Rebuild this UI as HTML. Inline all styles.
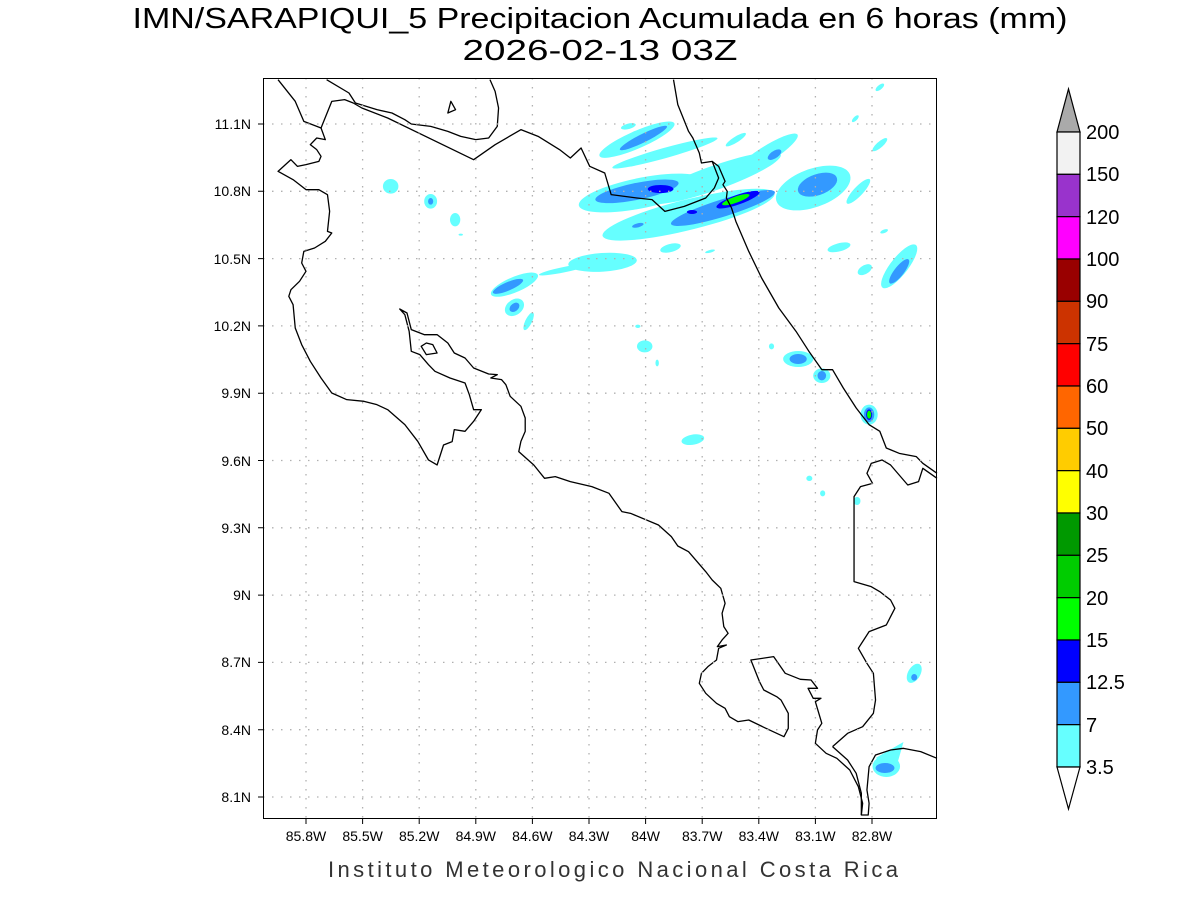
<!DOCTYPE html>
<html><head><meta charset="utf-8"><style>
html,body{margin:0;padding:0;background:#fff}
svg{display:block}
text{font-family:"Liberation Sans",sans-serif}
</style></head><body>
<svg width="1200" height="900" viewBox="0 0 1200 900" xmlns="http://www.w3.org/2000/svg">
<rect width="1200" height="900" fill="#fff"/>
<text x="600" y="28" font-size="29" text-anchor="middle" textLength="935" lengthAdjust="spacingAndGlyphs">IMN/SARAPIQUI_5 Precipitacion Acumulada en 6 horas (mm)</text>
<text x="600" y="60" font-size="29" text-anchor="middle" textLength="275" lengthAdjust="spacingAndGlyphs">2026-02-13 03Z</text>

<g transform="translate(263,78) scale(0.42985,0.33333)">
<g fill="#66ffff">
<ellipse cx="870" cy="185" rx="100" ry="25" transform="rotate(-30 870 185)"/>
<ellipse cx="850" cy="145" rx="18" ry="8" transform="rotate(-20 850 145)"/>
<ellipse cx="935" cy="225" rx="130" ry="15" transform="rotate(-20 935 225)"/>
<ellipse cx="1100" cy="185" rx="30" ry="8" transform="rotate(-40 1100 185)"/>
<ellipse cx="880" cy="345" rx="150" ry="45" transform="rotate(-15 880 345)"/>
<ellipse cx="1050" cy="300" rx="170" ry="35" transform="rotate(-25 1050 300)"/>
<ellipse cx="990" cy="410" rx="210" ry="45" transform="rotate(-18 990 410)"/>
<ellipse cx="1170" cy="230" rx="95" ry="22" transform="rotate(-40 1170 230)"/>
<ellipse cx="1280" cy="330" rx="95" ry="55" transform="rotate(-30 1280 330)"/>
<ellipse cx="1385" cy="340" rx="45" ry="12" transform="rotate(-55 1385 340)"/>
<ellipse cx="1435" cy="200" rx="25" ry="8" transform="rotate(-50 1435 200)"/>
<ellipse cx="1435" cy="28" rx="14" ry="6" transform="rotate(-50 1435 28)"/>
<ellipse cx="1378" cy="122" rx="12" ry="5" transform="rotate(-55 1378 122)"/>
<ellipse cx="1480" cy="565" rx="75" ry="22" transform="rotate(-60 1480 565)"/>
<ellipse cx="1400" cy="575" rx="20" ry="12" transform="rotate(-45 1400 575)"/>
<ellipse cx="1340" cy="508" rx="28" ry="12" transform="rotate(-20 1340 508)"/>
<ellipse cx="1445" cy="460" rx="10" ry="5" transform="rotate(-30 1445 460)"/>
<ellipse cx="297" cy="325" rx="18" ry="22"/>
<ellipse cx="390" cy="370" rx="15" ry="22"/>
<ellipse cx="447" cy="425" rx="12" ry="20"/>
<ellipse cx="460" cy="470" rx="5" ry="3"/>
<ellipse cx="948" cy="510" rx="25" ry="12" transform="rotate(-20 948 510)"/>
<ellipse cx="1040" cy="520" rx="12" ry="4" transform="rotate(-20 1040 520)"/>
<ellipse cx="790" cy="553" rx="80" ry="28" transform="rotate(-5 790 553)"/>
<ellipse cx="700" cy="575" rx="60" ry="8" transform="rotate(-15 700 575)"/>
<ellipse cx="585" cy="620" rx="62" ry="22" transform="rotate(-30 585 620)"/>
<ellipse cx="585" cy="688" rx="20" ry="28" transform="rotate(30 585 688)"/>
<ellipse cx="618" cy="730" rx="8" ry="28" transform="rotate(20 618 730)"/>
<ellipse cx="872" cy="745" rx="6" ry="5"/>
<ellipse cx="888" cy="805" rx="18" ry="18"/>
<ellipse cx="917" cy="855" rx="4" ry="10"/>
<ellipse cx="1245" cy="843" rx="35" ry="24"/>
<ellipse cx="1300" cy="893" rx="20" ry="22"/>
<ellipse cx="1183" cy="805" rx="6" ry="9"/>
<ellipse cx="1410" cy="1010" rx="20" ry="30"/>
<ellipse cx="1000" cy="1085" rx="27" ry="15" transform="rotate(-15 1000 1085)"/>
<ellipse cx="1271" cy="1201" rx="7" ry="8"/>
<ellipse cx="1302" cy="1246" rx="6" ry="9"/>
<ellipse cx="1382" cy="1269" rx="8" ry="12"/>
<ellipse cx="1515" cy="1786" rx="15" ry="30" transform="rotate(20 1515 1786)"/>
<ellipse cx="1450" cy="2065" rx="32" ry="32"/>
<polygon points="1425,2040 1490,1992 1475,2060"/>
</g>
<g fill="#3399ff">
<ellipse cx="885" cy="180" rx="65" ry="12" transform="rotate(-33 885 180)"/>
<ellipse cx="870" cy="340" rx="100" ry="25" transform="rotate(-15 870 340)"/>
<ellipse cx="1070" cy="390" rx="130" ry="25" transform="rotate(-22 1070 390)"/>
<ellipse cx="1190" cy="230" rx="20" ry="10" transform="rotate(-45 1190 230)"/>
<ellipse cx="1290" cy="320" rx="50" ry="30" transform="rotate(-30 1290 320)"/>
<ellipse cx="1480" cy="580" rx="42" ry="12" transform="rotate(-60 1480 580)"/>
<ellipse cx="390" cy="370" rx="6" ry="10"/>
<ellipse cx="570" cy="625" rx="40" ry="12" transform="rotate(-30 570 625)"/>
<ellipse cx="585" cy="688" rx="10" ry="15" transform="rotate(30 585 688)"/>
<ellipse cx="872" cy="442" rx="14" ry="6" transform="rotate(-20 872 442)"/>
<ellipse cx="1245" cy="843" rx="20" ry="15"/>
<ellipse cx="1300" cy="893" rx="10" ry="14"/>
<ellipse cx="1410" cy="1010" rx="12" ry="22"/>
<ellipse cx="1515" cy="1798" rx="7" ry="10"/>
<ellipse cx="1447" cy="2070" rx="22" ry="15"/>
</g>
<g fill="#0000ff">
<ellipse cx="925" cy="333" rx="30" ry="12"/>
<ellipse cx="1105" cy="365" rx="55" ry="14" transform="rotate(-25 1105 365)"/>
<ellipse cx="998" cy="402" rx="12" ry="6"/>
<ellipse cx="1410" cy="1010" rx="7" ry="16"/>
</g>
<g fill="#00ff00">
<ellipse cx="1100" cy="365" rx="35" ry="9" transform="rotate(-25 1100 365)"/>
<ellipse cx="1410" cy="1010" rx="5" ry="12"/>
</g>

<g stroke="#aaa" stroke-width="2" stroke-dasharray="2,10" vector-effect="non-scaling-stroke" fill="none">
</g>

<g fill="none" stroke="#000" stroke-width="1.3" vector-effect="non-scaling-stroke" stroke-linejoin="round">
<polyline vector-effect="non-scaling-stroke" points="35,5 75,70 95,130 135,150 160,70 190,65 210,75 230,90 290,120 490,245 540,200 600,155 640,175 690,215 715,240 740,210 760,265 795,285 810,350 870,360 905,365 935,400 980,385 1030,360 1050,330 1060,300 1045,250"/>
<polyline vector-effect="non-scaling-stroke" points="148,5 200,45 215,75 265,95 300,105 330,125 345,138 390,145 430,160 460,175 495,185 525,180 545,145 548,90 540,40 528,5"/>
<polygon vector-effect="non-scaling-stroke" points="430,105 437,70 448,95"/>
<polygon vector-effect="non-scaling-stroke" points="368,805 380,795 395,800 405,825 380,830"/>
<polyline vector-effect="non-scaling-stroke" points="135,150 145,185 125,180 110,200 125,215 135,235 130,250 100,260 80,265 65,245 35,280 70,305 100,335 130,335 150,350 155,400 150,460 160,465 145,490 120,510 95,520 90,555 100,580 85,610 65,635 60,655 70,680 75,750 90,800 110,850 135,900 160,945 195,965 235,970 265,980 290,995 330,1040 360,1090 385,1146 405,1161 420,1101 440,1091 445,1055 470,1060 490,1030 508,995 490,995 480,950 470,915 435,900 400,880 385,860 365,830 345,820 340,760 330,710 318,693 335,705 345,755 375,770 405,770 430,795 445,825 470,840 490,870 525,888 545,890 530,900 555,905 565,920 575,955 600,985 610,1020 610,1060 600,1090 595,1121 630,1161 655,1201 680,1196 715,1211 765,1226 805,1246 835,1301 855,1306 920,1341 950,1376 965,1404 990,1421 1010,1451 1030,1481 1045,1506 1065,1531 1075,1576 1068,1606 1072,1646 1082,1666 1068,1686 1057,1706 1078,1701 1060,1711 1055,1746 1035,1766 1020,1786 1015,1816 1030,1846 1055,1876 1075,1891 1085,1916 1105,1931 1130,1926 1170,1951 1212,1976 1222,1951 1222,1906 1205,1866 1195,1856 1165,1836 1155,1811 1135,1746 1188,1736 1215,1786 1250,1804 1275,1806 1290,1831 1268,1831 1280,1861 1298,1861 1285,1871 1300,1936 1290,1956 1285,1996 1310,2026 1335,2041 1365,2076 1385,2126 1395,2176 1392,2211 1408,2211 1410,2176 1405,2136 1410,2066 1425,2031 1460,2016 1490,2011 1530,2021 1568,2041"/>
<polyline vector-effect="non-scaling-stroke" points="1325,2006 1360,2046 1380,2086 1392,2146 1392,2211"/>
<polyline vector-effect="non-scaling-stroke" points="1325,2006 1360,1966 1395,1946 1420,1906 1425,1866 1420,1786 1405,1756 1385,1711 1395,1691 1410,1661 1450,1641 1470,1591 1460,1566 1435,1541 1415,1526 1375,1511 1375,1256 1390,1226 1418,1216 1405,1186 1415,1156 1440,1146 1460,1161 1480,1191 1500,1221 1525,1211 1535,1171 1568,1201"/>
<polyline vector-effect="non-scaling-stroke" points="955,5 965,80 990,160 1000,180 1015,225 1020,255 1045,250 1060,265 1075,310 1070,320 1080,340 1078,360 1090,390 1100,430 1130,520 1160,600 1200,690 1240,760 1270,820 1300,875 1325,875 1350,930 1380,990 1410,1040 1435,1060 1450,1110 1480,1126 1520,1136 1535,1156 1568,1186"/>
</g>
</g>

<!-- grid -->
<g stroke="#b0b0b0" stroke-width="1.3" stroke-dasharray="1.5,7.5" fill="none">
<path d="M306 78V819M362.6 78V819M419.2 78V819M475.8 78V819M532.4 78V819M589 78V819M645.6 78V819M702.2 78V819M758.8 78V819M815.4 78V819M872 78V819"/>
<path d="M263 124H937M263 191.3H937M263 258.6H937M263 325.9H937M263 393.2H937M263 460.5H937M263 527.8H937M263 595.1H937M263 662.4H937M263 729.7H937M263 797H937"/>
</g>
<rect x="263.5" y="78.5" width="673" height="740" fill="none" stroke="#000" stroke-width="1"/>
<g stroke="#000" stroke-width="1">
<path d="M306 819v5M362.6 819v5M419.2 819v5M475.8 819v5M532.4 819v5M589 819v5M645.6 819v5M702.2 819v5M758.8 819v5M815.4 819v5M872 819v5"/>
<path d="M263 124h-5M263 191.3h-5M263 258.6h-5M263 325.9h-5M263 393.2h-5M263 460.5h-5M263 527.8h-5M263 595.1h-5M263 662.4h-5M263 729.7h-5M263 797h-5"/>
</g>
<g font-size="14" text-anchor="middle">
<text x="306" y="841">85.8W</text><text x="362.6" y="841">85.5W</text><text x="419.2" y="841">85.2W</text><text x="475.8" y="841">84.9W</text><text x="532.4" y="841">84.6W</text><text x="589" y="841">84.3W</text><text x="645.6" y="841">84W</text><text x="702.2" y="841">83.7W</text><text x="758.8" y="841">83.4W</text><text x="815.4" y="841">83.1W</text><text x="872" y="841">82.8W</text>
</g>
<g font-size="14" text-anchor="end">
<text x="251" y="129">11.1N</text><text x="251" y="196">10.8N</text><text x="251" y="264">10.5N</text><text x="251" y="331">10.2N</text><text x="251" y="398">9.9N</text><text x="251" y="466">9.6N</text><text x="251" y="533">9.3N</text><text x="251" y="600">9N</text><text x="251" y="667">8.7N</text><text x="251" y="735">8.4N</text><text x="251" y="802">8.1N</text>
</g>
<text x="613" y="877" font-size="22" text-anchor="middle" fill="#333" textLength="570" lengthAdjust="spacing">Instituto Meteorologico Nacional Costa Rica</text>

<!-- colorbar -->
<g stroke="#000" stroke-width="1.2">
<polygon points="1057,132 1080,132 1068.5,89" fill="#aaaaaa"/>
<rect x="1057" y="132" width="23" height="42.33" fill="#f2f2f2"/>
<rect x="1057" y="174.33" width="23" height="42.33" fill="#9933cc"/>
<rect x="1057" y="216.67" width="23" height="42.33" fill="#ff00ff"/>
<rect x="1057" y="259" width="23" height="42.33" fill="#990000"/>
<rect x="1057" y="301.33" width="23" height="42.33" fill="#cc3300"/>
<rect x="1057" y="343.67" width="23" height="42.33" fill="#ff0000"/>
<rect x="1057" y="386" width="23" height="42.33" fill="#ff6600"/>
<rect x="1057" y="428.33" width="23" height="42.33" fill="#ffcc00"/>
<rect x="1057" y="470.67" width="23" height="42.33" fill="#ffff00"/>
<rect x="1057" y="513" width="23" height="42.33" fill="#009900"/>
<rect x="1057" y="555.33" width="23" height="42.33" fill="#00cc00"/>
<rect x="1057" y="597.67" width="23" height="42.33" fill="#00ff00"/>
<rect x="1057" y="640" width="23" height="42.33" fill="#0000ff"/>
<rect x="1057" y="682.33" width="23" height="42.33" fill="#3399ff"/>
<rect x="1057" y="724.67" width="23" height="42.33" fill="#66ffff"/>
<polygon points="1057,767 1080,767 1068.5,809" fill="#fff"/>
</g>
<g font-size="20">
<text x="1086" y="139">200</text><text x="1086" y="181">150</text><text x="1086" y="224">120</text><text x="1086" y="266">100</text><text x="1086" y="308">90</text><text x="1086" y="351">75</text><text x="1086" y="393">60</text><text x="1086" y="435">50</text><text x="1086" y="478">40</text><text x="1086" y="520">30</text><text x="1086" y="562">25</text><text x="1086" y="605">20</text><text x="1086" y="647">15</text><text x="1086" y="689">12.5</text><text x="1086" y="732">7</text><text x="1086" y="774">3.5</text>
</g>
</svg>
</body></html>
